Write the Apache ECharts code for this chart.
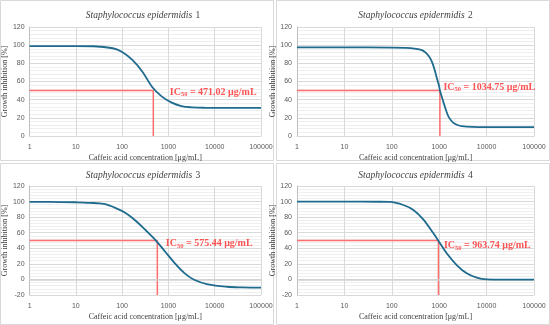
<!DOCTYPE html>
<html><head><meta charset="utf-8">
<script src="https://cdn.jsdelivr.net/npm/echarts@6/dist/echarts.min.js"></script>
<style>html,body{margin:0;padding:0;background:#fff}#c{width:550px;height:325px}</style>
</head><body><div id="c"></div>
<script>
// ---- data ----
const panelNames = ['1', '2', '3', '4'];
const speciesName = 'Staphylococcus epidermidis';
const xAxisTitle = 'Caffeic acid concentration [μg/mL]';
const yAxisTitle = 'Growth inhibition [%]';
const ic50 = [471.02, 1034.75, 575.44, 963.74];
const ic50Text = ['471.02', '1034.75', '575.44', '963.74'];
const yMin = [0, 0, -20, -20];
const yMax = [120, 120, 120, 120];

const conc1 = [1, 10, 24, 63, 100, 166, 274, 445, 724, 1175, 1900, 3150, 6000, 20000, 100000];
const inhib1 = [99, 99, 98.8, 96.6, 92.5, 83.7, 70.8, 54, 43.3, 36.7, 33, 31.6, 31.1, 31, 31];

const conc2 = [1, 10, 100, 200, 300, 400, 500, 600, 700, 800, 900, 1000, 1035, 1200, 1400, 1600, 2000, 2500, 3000, 5000, 10000, 100000];
const inhib2 = [97.5, 97.5, 97.4, 97, 96.3, 95, 92.5, 88, 82, 73, 63, 54.5, 50, 39, 28, 20.5, 14.5, 11.8, 10.8, 10, 9.8, 9.8];

const conc3 = [1, 5, 10, 20, 40, 75, 121, 196, 320, 525, 850, 1380, 2250, 3700, 7100, 18600, 40000, 100000];
const inhib3 = [99.6, 99.4, 99.1, 98.4, 96.9, 91.3, 85, 75.4, 63.5, 50.6, 35.6, 20.7, 7.8, -0.8, -6.3, -9.4, -10.2, -10.5];

const conc4 = [1, 10, 50, 91, 175, 285, 460, 755, 960, 1440, 2340, 3800, 6200, 10000, 30000, 100000];
const inhib4 = [100, 100, 99.8, 99.5, 95.6, 89.2, 77.2, 59.2, 49.8, 33.6, 18.5, 7.8, 2.2, 0.1, -0.2, -0.3];

const concs = [conc1, conc2, conc3, conc4];
const inhibs = [inhib1, inhib2, inhib3, inhib4];

// ---- layout ----
const grids = [
  {left: 25, top: 27, width: 236, height: 109},
  {left: 297, top: 27, width: 237, height: 109},
  {left: 25, top: 186, width: 236, height: 109},
  {left: 297, top: 186, width: 237, height: 109}
];
const titleY = [15, 15, 175, 175];
const labelOffsets = [[16, 1.5], [3, -3.5], [8, 3], [5, 5]];
const serif = 'Liberation Serif';
const sans = 'Liberation Sans';
const curveColor = '#1f6b8e';
const redLine = '#ff6f6f';
const redText = '#ff2a2a';

const chart = echarts.init(document.getElementById('c'), null, {renderer: 'canvas'});

const xAxes = [], yAxes = [], series = [], graphics = [];
const panelRects = [[0.5, 0.5, 273, 160], [276.5, 0.5, 273, 160], [0.5, 163.5, 273, 161], [276.5, 163.5, 273, 161]];
panelRects.forEach(r => graphics.push({type: 'rect', shape: {x: r[0], y: r[1], width: r[2], height: r[3]}, style: {fill: 'none', stroke: '#d9d9d9', lineWidth: 1}, silent: true}));

for (let i = 0; i < 4; i++) {
  const g = grids[i];
  xAxes.push({
    type: 'log', logBase: 10, gridIndex: i, min: 1, max: 100000,
    name: xAxisTitle, nameLocation: 'middle', nameGap: 18,
    nameTextStyle: {fontFamily: serif, fontSize: 8, color: '#404040'},
    axisLine: {show: true, lineStyle: {color: '#d9d9d9'}},
    axisTick: {show: false},
    axisLabel: {fontFamily: sans, fontSize: 7, color: '#595959', margin: 8, formatter: v => String(Math.round(v))},
    splitLine: {show: true, lineStyle: {color: '#d9d9d9', width: 1}},
    minorTick: {show: false},
    minorSplitLine: {show: false}
  });
  yAxes.push({
    type: 'value', gridIndex: i, min: yMin[i], max: yMax[i], interval: 20,
    name: yAxisTitle, nameLocation: 'middle', nameGap: 12,
    nameTextStyle: {fontFamily: serif, fontSize: 8, color: '#404040'},
    axisLine: {show: true, lineStyle: {color: '#bfbfbf'}},
    axisTick: {show: false},
    axisLabel: {fontFamily: sans, fontSize: 7, color: '#595959', margin: 5},
    splitLine: {show: true, lineStyle: {color: '#d9d9d9', width: 1}},
    minorTick: {show: false, splitNumber: 5},
    minorSplitLine: {show: true, lineStyle: {color: '#efefef', width: 1}}
  });
  series.push({
    type: 'line', xAxisIndex: i, yAxisIndex: i,
    data: concs[i].map((c, k) => [c, inhibs[i][k]]),
    smooth: 0.35, showSymbol: false, symbol: 'none',
    lineStyle: {color: curveColor, width: 1.8}, z: 5,
    markLine: yMin[i] < 0 ? {silent: true, symbol: 'none', label: {show: false},
      lineStyle: {color: '#d0d0d0', width: 1.5, type: 'solid'}, data: [{yAxis: 0}]} : undefined
  });
  series.push({
    type: 'line', xAxisIndex: i, yAxisIndex: i,
    data: [[1, 50], [ic50[i], 50], [ic50[i], yMin[i]]],
    showSymbol: false, symbol: 'none', lineStyle: {color: redLine, width: 1.5}, z: 4
  });
  series.push({
    type: 'scatter', xAxisIndex: i, yAxisIndex: i,
    data: [[ic50[i], 50]], symbolSize: 1, itemStyle: {color: 'rgba(0,0,0,0)'}, z: 6,
    label: {
      show: true, position: 'right', distance: 0, offset: labelOffsets[i],
      formatter: '{a|IC}{s|50}{a| = ' + ic50Text[i] + ' μg/mL}',
      rich: {
        a: {fontFamily: serif, fontSize: 10, fontWeight: 'bold', color: redText},
        s: {fontFamily: serif, fontSize: 6.5, fontWeight: 'bold', color: redText, verticalAlign: 'bottom', padding: [5, 0, 0, 0]}
      }
    }
  });
  graphics.push({
    type: 'text', x: g.left + g.width / 2, y: titleY[i], silent: true,
    style: {
      text: '{i|' + speciesName + '} {n|' + panelNames[i] + '}',
      align: 'center', verticalAlign: 'middle',
      rich: {
        i: {fontFamily: serif, fontStyle: 'italic', fontSize: 9.5, fill: '#404040'},
        n: {fontFamily: serif, fontSize: 9.5, fill: '#404040'}
      }
    }
  });
}

chart.setOption({
  animation: false,
  backgroundColor: '#ffffff',
  grid: grids.map(g => ({left: g.left, top: g.top, width: g.width, height: g.height, containLabel: false})),
  xAxis: xAxes,
  yAxis: yAxes,
  series: series,
  graphic: graphics
});
</script>
</body></html>
